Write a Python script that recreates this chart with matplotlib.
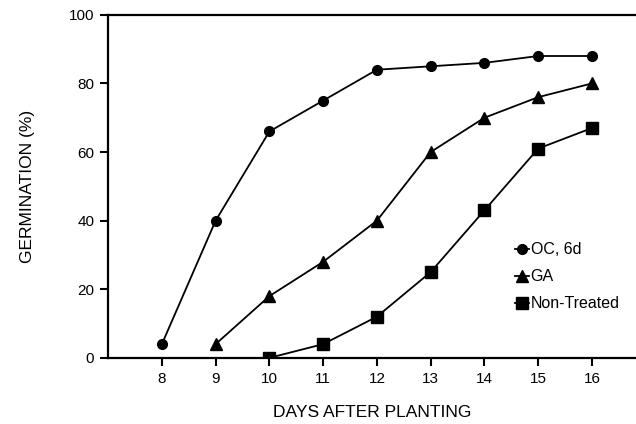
import matplotlib
matplotlib.use("Agg")
import matplotlib.pyplot as plt

plt.rcParams['font.family'] = ['Liberation Sans', 'DejaVu Sans']

# Germination data
days_oc = [8, 9, 10, 11, 12, 13, 14, 15, 16]
oc_6d = [4, 40, 66, 75, 84, 85, 86, 88, 88]

days_ga = [9, 10, 11, 12, 13, 14, 15, 16]
ga = [4, 18, 28, 40, 60, 70, 76, 80]

days_nt = [10, 11, 12, 13, 14, 15, 16]
non_treated = [0, 4, 12, 25, 43, 61, 67]

x_ticks = [8, 9, 10, 11, 12, 13, 14, 15, 16]
y_ticks = [0, 20, 40, 60, 80, 100]

fig = plt.figure(figsize=(6.36, 4.24), dpi=100)
ax = fig.add_axes([0.170, 0.156, 0.830, 0.809])

ax.plot(days_oc, oc_6d, color='black', lw=1.3, marker='o', ms=7, label='OC, 6d')
ax.plot(days_ga, ga, color='black', lw=1.3, marker='^', ms=8.5, label='GA')
ax.plot(days_nt, non_treated, color='black', lw=1.3, marker='s', ms=8, label='Non-Treated')

ax.set_xlim(7, 16.82)
ax.set_ylim(0, 100)
ax.set_xticks(x_ticks)
ax.set_yticks(y_ticks)
ax.tick_params(direction='out', length=6, width=1.5, labelsize=11, pad=4)

ax.spines['right'].set_visible(False)
for side in ['left', 'bottom', 'top']:
    ax.spines[side].set_linewidth(1.6)

ax.set_xlabel('DAYS AFTER PLANTING', fontsize=12.5, labelpad=14)
ax.set_ylabel('GERMINATION (%)', fontsize=12.5, labelpad=24)

ax.legend(loc='center left', bbox_to_anchor=(0.755, 0.236), frameon=False,
          fontsize=11.5, handlelength=0.9, handletextpad=0.1, labelspacing=0.75,
          borderpad=0)

fig.savefig('out.png', dpi=100)
